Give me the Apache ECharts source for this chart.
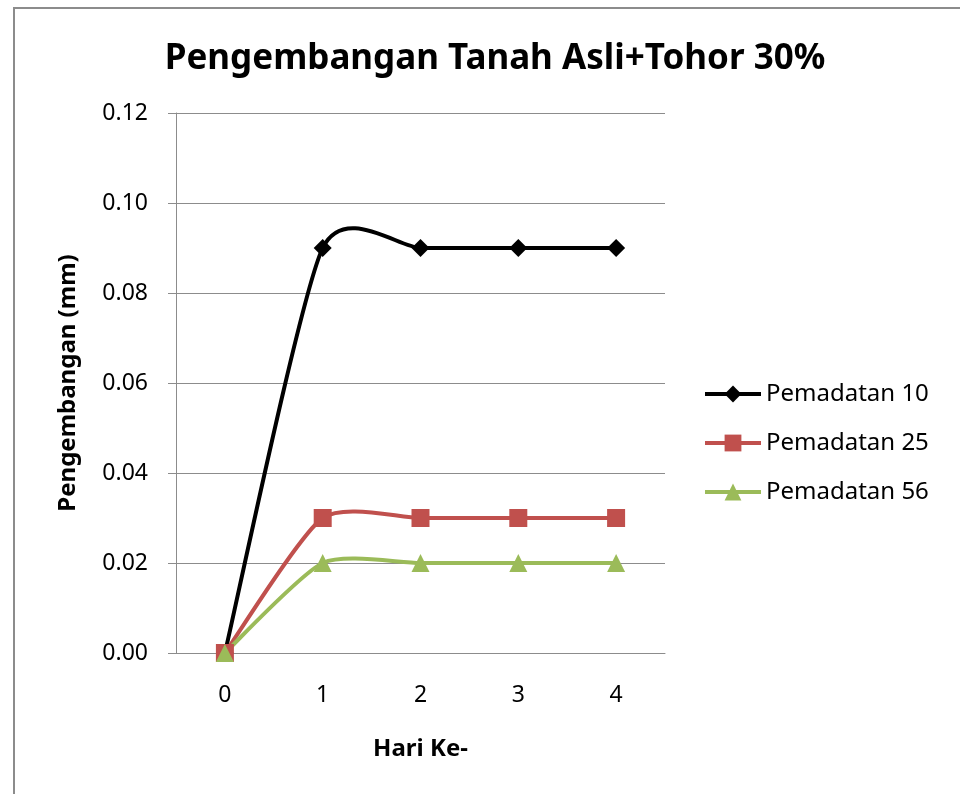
<!DOCTYPE html>
<html>
<head>
<meta charset="utf-8">
<script src="https://cdn.jsdelivr.net/npm/echarts@6/dist/echarts.min.js"></script>
<style>
  html, body { margin: 0; padding: 0; background: #fff; }
  #chart { width: 960px; height: 794px; }
</style>
</head>
<body>
<div id="chart"></div>
<script>
const days = ['0', '1', '2', '3', '4']
const pemadatan10 = [0, 0.09, 0.09, 0.09, 0.09]
const pemadatan25 = [0, 0.03, 0.03, 0.03, 0.03]
const pemadatan56 = [0, 0.02, 0.02, 0.02, 0.02]

const font = 'Noto Sans'
const myChart = echarts.init(document.getElementById('chart'))

// excel-like spline: each segment is a bezier, control points from the neighbours
const tension = 0.11
function splineSeries (name, values, color) {
  return {
    name: name,
    type: 'custom',
    coordinateSystem: 'cartesian2d',
    data: values.map((v, i) => [i, v]),
    silent: true,
    renderItem: (params, api) => {
      const i = params.dataIndex
      if (i >= values.length - 1) return null
      const pt = k => api.coord([k, values[k]])
      const p0 = pt(Math.max(i - 1, 0))
      const p1 = pt(i)
      const p2 = pt(i + 1)
      const p3 = pt(Math.min(i + 2, values.length - 1))
      return {
        type: 'bezierCurve',
        shape: {
          x1: p1[0], y1: p1[1],
          x2: p2[0], y2: p2[1],
          cpx1: p1[0] + (p2[0] - p0[0]) * tension,
          cpy1: p1[1] + (p2[1] - p0[1]) * tension,
          cpx2: p2[0] - (p3[0] - p1[0]) * tension,
          cpy2: p2[1] - (p3[1] - p1[1]) * tension
        },
        style: { stroke: color, lineWidth: 4, fill: null, lineCap: 'round' }
      }
    }
  }
}

function markerSeries (name, values, color, symbol, size) {
  return {
    name: name,
    type: 'line',
    data: values,
    symbol: symbol,
    symbolSize: size,
    lineStyle: { color: color, width: 4, opacity: 0 },
    itemStyle: { color: color }
  }
}

const option = {
  animation: false,
  textStyle: { fontFamily: font },
  title: {
    text: 'Pengembangan Tanah Asli+Tohor 30%',
    left: 490,
    textAlign: 'center',
    top: 37,
    textStyle: { fontFamily: font, fontSize: 35, fontWeight: 'bold', color: '#000' }
  },
  graphic: [{
    type: 'polyline',
    shape: { points: [[14, 794], [14, 8], [960, 8]] },
    style: { stroke: '#8c8c8c', lineWidth: 2, fill: null }
  }],
  legend: {
    orient: 'vertical',
    left: 698,
    top: 377,
    itemWidth: 56,
    itemHeight: 21,
    itemGap: 25,
    lineStyle: { width: 4, opacity: 1 },
    textStyle: { fontFamily: font, fontSize: 24, color: '#000' },
    data: ['Pemadatan 10', 'Pemadatan 25', 'Pemadatan 56']
  },
  grid: { left: 176, right: 295, top: 113, bottom: 141 },
  xAxis: {
    type: 'category',
    data: days,
    boundaryGap: true,
    name: 'Hari Ke-',
    nameLocation: 'middle',
    nameGap: 84,
    nameTextStyle: { fontFamily: font, fontSize: 24, fontWeight: 'bold', color: '#000' },
    axisLine: { lineStyle: { color: '#8c8c8c', width: 1 } },
    axisTick: { show: false },
    axisLabel: { fontSize: 23, color: '#000', margin: 31 }
  },
  yAxis: {
    type: 'value',
    min: 0,
    max: 0.12,
    interval: 0.02,
    name: 'Pengembangan (mm)',
    nameLocation: 'middle',
    nameGap: 96,
    nameTextStyle: { fontFamily: font, fontSize: 24, fontWeight: 'bold', color: '#000' },
    axisLine: { show: true, lineStyle: { color: '#8c8c8c', width: 1 } },
    axisTick: { show: true, length: 8, inside: false, lineStyle: { color: '#8c8c8c' } },
    axisLabel: { fontSize: 23, color: '#000', margin: 28, formatter: v => v.toFixed(2) },
    splitLine: { lineStyle: { color: '#8c8c8c', width: 1 } }
  },
  series: [
    splineSeries('curve 10', pemadatan10, '#000'),
    markerSeries('Pemadatan 10', pemadatan10, '#000', 'diamond', 18),
    splineSeries('curve 25', pemadatan25, '#c0504d'),
    markerSeries('Pemadatan 25', pemadatan25, '#c0504d', 'rect', 18),
    splineSeries('curve 56', pemadatan56, '#9bbb59'),
    markerSeries('Pemadatan 56', pemadatan56, '#9bbb59', 'triangle', 18)
  ]
}

myChart.setOption(option)

window.addEventListener('resize', () => {
  myChart.resize()
})
</script>
</body>
</html>
